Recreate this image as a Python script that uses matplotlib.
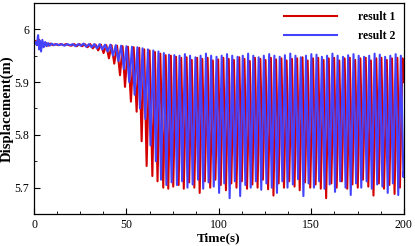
import matplotlib
matplotlib.use('Agg')
import numpy as np
import matplotlib.pyplot as plt
from matplotlib.ticker import MultipleLocator, FuncFormatter

plt.rcParams['font.family'] = 'serif'
plt.rcParams['font.serif'] = ['Liberation Serif', 'DejaVu Serif']

# turning points (time in s, displacement in m)
red_t = [0.0, 1.0, 2.0, 2.8, 3.6, 4.5, 5.5, 6.5, 7.6, 8.8, 10.2, 11.6, 13.0, 14.4, 15.9,
         17.3, 18.8, 20.2, 21.7, 23.1, 24.6, 26.0, 27.5, 28.9, 30.4, 31.8, 33.3, 34.7,
         36.2, 37.6, 39.1, 40.5, 41.9, 43.4, 44.9, 46.5, 47.9, 49.2, 50.8, 52.4, 53.9,
         55.5, 56.9, 58.2, 59.6, 60.9, 62.5, 64.0, 65.4, 66.8, 68.3, 69.9, 71.2, 72.6,
         74.0, 75.3, 76.8, 78.2, 79.6, 81.0, 82.5, 83.9, 85.3, 86.7, 88.2, 89.6, 91.0,
         92.4, 93.9, 95.3, 96.7, 98.1, 99.6, 101.0, 102.4, 103.8, 105.3, 106.7, 108.1,
         109.5, 111.0, 112.4, 113.8, 115.2, 116.7, 118.1, 119.5, 120.9, 122.4, 123.8,
         125.2, 126.6, 128.1, 129.5, 130.9, 132.3, 133.8, 135.2, 136.6, 138.0, 139.5,
         140.9, 142.3, 143.7, 145.2, 146.6, 148.0, 149.4, 150.9, 152.3, 153.7, 155.1,
         156.6, 158.0, 159.4, 160.8, 162.3, 163.7, 165.1, 166.5, 168.0, 169.4, 170.8,
         172.2, 173.7, 175.1, 176.5, 177.9, 179.4, 180.8, 182.2, 183.6, 185.1, 186.5,
         187.9, 189.3, 190.8, 192.2, 193.6, 195.0, 196.5, 197.9, 199.3, 200.0]
red_y = [5.974, 5.978, 5.970, 5.980, 5.966, 5.976, 5.968, 5.974, 5.969, 5.973, 5.970,
         5.972, 5.970, 5.972, 5.970, 5.972, 5.970, 5.969, 5.972, 5.968, 5.972, 5.968,
         5.972, 5.966, 5.972, 5.964, 5.971, 5.960, 5.971, 5.955, 5.970, 5.945, 5.970,
         5.935, 5.969, 5.913, 5.968, 5.891, 5.967, 5.863, 5.966, 5.844, 5.965, 5.788,
         5.962, 5.741, 5.960, 5.722, 5.957, 5.712, 5.954, 5.700, 5.951, 5.698, 5.950,
         5.702, 5.948, 5.705, 5.946, 5.698, 5.947, 5.710, 5.942, 5.700, 5.946, 5.690,
         5.944, 5.712, 5.946, 5.700, 5.941, 5.715, 5.943, 5.705, 5.946, 5.695, 5.944,
         5.708, 5.942, 5.700, 5.947, 5.712, 5.944, 5.698, 5.940, 5.706, 5.946, 5.700,
         5.944, 5.715, 5.942, 5.697, 5.946, 5.685, 5.943, 5.708, 5.945, 5.700, 5.941,
         5.712, 5.944, 5.702, 5.945, 5.695, 5.947, 5.710, 5.941, 5.700, 5.945, 5.706,
         5.946, 5.698, 5.942, 5.680, 5.945, 5.708, 5.946, 5.700, 5.941, 5.712, 5.945,
         5.698, 5.946, 5.706, 5.942, 5.700, 5.945, 5.715, 5.946, 5.702, 5.941, 5.685,
         5.945, 5.708, 5.946, 5.698, 5.942, 5.705, 5.945, 5.688, 5.946, 5.700, 5.945,
         5.900]

blue_t = [0.0, 0.8, 1.5, 2.2, 2.8, 3.3, 3.8, 4.5, 5.2, 6.0, 6.8, 7.6, 8.5, 9.5, 10.8,
          12.2, 13.6, 15.0, 16.5, 18.0, 19.5, 21.0, 22.4, 23.9, 25.3, 26.8, 28.2, 29.7,
          31.1, 32.6, 34.0, 35.5, 36.9, 38.4, 39.8, 41.3, 42.7, 44.2, 45.6, 47.1, 48.6,
          50.0, 51.5, 53.0, 54.4, 55.9, 57.3, 58.7, 60.2, 61.6, 63.0, 64.5, 65.9, 67.3,
          68.7, 70.2, 71.6, 73.0, 74.4, 75.9, 77.3, 78.7, 80.1, 81.6, 83.0, 84.4, 85.8,
          87.3, 88.7, 90.1, 91.5, 93.0, 94.4, 95.8, 97.2, 98.7, 100.1, 101.5, 102.9,
          104.4, 105.8, 107.2, 108.6, 110.1, 111.5, 112.9, 114.3, 115.8, 117.2, 118.6,
          120.0, 121.5, 122.9, 124.3, 125.7, 127.2, 128.6, 130.0, 131.4, 132.9, 134.3,
          135.7, 137.1, 138.6, 140.0, 141.4, 142.8, 144.3, 145.7, 147.1, 148.5, 150.0,
          151.4, 152.8, 154.2, 155.7, 157.1, 158.5, 159.9, 161.4, 162.8, 164.2, 165.6,
          167.1, 168.5, 169.9, 171.3, 172.8, 174.2, 175.6, 177.0, 178.5, 179.9, 181.3,
          182.7, 184.2, 185.6, 187.0, 188.4, 189.9, 191.3, 192.7, 194.1, 195.6, 197.0,
          198.4, 199.8, 200.0]
blue_y = [5.972, 5.976, 5.970, 5.989, 5.962, 5.978, 5.958, 5.980, 5.966, 5.976, 5.968,
          5.974, 5.969, 5.973, 5.970, 5.972, 5.970, 5.972, 5.969, 5.972, 5.970, 5.972,
          5.968, 5.972, 5.969, 5.973, 5.967, 5.972, 5.966, 5.972, 5.964, 5.972, 5.962,
          5.971, 5.958, 5.971, 5.950, 5.970, 5.940, 5.969, 5.925, 5.968, 5.900, 5.967,
          5.876, 5.966, 5.850, 5.964, 5.830, 5.962, 5.780, 5.960, 5.750, 5.958, 5.715,
          5.955, 5.705, 5.952, 5.710, 5.951, 5.705, 5.950, 5.712, 5.953, 5.700, 5.950,
          5.706, 5.947, 5.715, 5.950, 5.698, 5.954, 5.710, 5.950, 5.702, 5.948, 5.690,
          5.950, 5.708, 5.953, 5.680, 5.950, 5.712, 5.948, 5.684, 5.950, 5.705, 5.954,
          5.700, 5.950, 5.712, 5.947, 5.696, 5.950, 5.708, 5.953, 5.700, 5.950, 5.690,
          5.948, 5.712, 5.951, 5.700, 5.954, 5.706, 5.950, 5.716, 5.947, 5.684, 5.950,
          5.708, 5.953, 5.700, 5.952, 5.712, 5.948, 5.698, 5.950, 5.706, 5.954, 5.692,
          5.950, 5.712, 5.948, 5.700, 5.951, 5.686, 5.953, 5.708, 5.950, 5.700, 5.948,
          5.712, 5.950, 5.698, 5.954, 5.706, 5.952, 5.702, 5.948, 5.690, 5.950, 5.708,
          5.953, 5.686, 5.950, 5.720, 5.730]

labels = ['result 1', 'result 2']

fig = plt.figure(figsize=(4.15, 2.46), dpi=100)
ax = fig.add_axes([0.082, 0.130, 0.891, 0.858])

ax.plot(red_t, red_y, color='#d40000', lw=1.5, label=labels[0])
ax.plot(blue_t, blue_y, color='#4444ff', lw=1.5, label=labels[1])

ax.set_xlim(0, 200)
ax.set_ylim(5.65, 6.05)
ax.xaxis.set_major_locator(MultipleLocator(50))
ax.xaxis.set_minor_locator(MultipleLocator(12.5))
ax.yaxis.set_major_locator(MultipleLocator(0.1))
ax.yaxis.set_minor_locator(MultipleLocator(0.05))
ax.yaxis.set_major_formatter(FuncFormatter(lambda v, p: '%g' % round(v, 2)))
ax.tick_params(which='both', direction='in', top=False, right=False, labelsize=8.5)
ax.tick_params(which='major', length=4, width=0.8)
ax.tick_params(which='minor', length=2, width=0.6)
for s in ax.spines.values():
    s.set_linewidth(0.9)

ax.set_xlabel('Time(s)', fontsize=9.5, fontweight='bold', labelpad=1)
ax.set_ylabel('Displacement(m)', fontsize=10.5, fontweight='bold', labelpad=0.5)

ax.legend(loc='upper right', frameon=False, handlelength=4.5, handletextpad=1.8,
          labelspacing=0.55, borderaxespad=0.3, prop={'weight': 'bold', 'size': 8.5})

fig.savefig('out.png', dpi=100)
